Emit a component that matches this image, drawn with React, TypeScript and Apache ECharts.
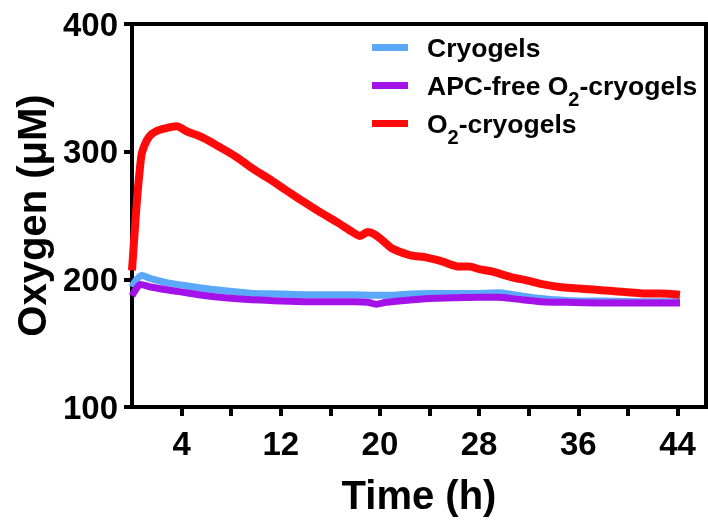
import React, { useEffect, useRef } from 'react';
import * as echarts from 'echarts';

// ---- data ----
const xTickValues = [4, 8, 12, 16, 20, 24, 28, 32, 36, 40, 44];
const xLabelValues = [4, 12, 20, 28, 36, 44];
const yTickValues = [100, 200, 300, 400];

const seriesNames = ['Cryogels', 'APC-free O2-cryogels', 'O2-cryogels'];
const seriesColors = ['#5BA8FA', '#A312E8', '#FF0A0A'];

const cryoTime = [0, 0.3, 0.8, 1.5, 3.0, 4.4, 5.7, 7.5, 9.7, 12, 14, 16, 18, 19.7, 21, 22.5, 24, 26, 28, 29.5, 31, 33, 35, 38, 41, 44.2];
const cryoValues = [194, 199, 203, 200.5, 197, 195, 193, 191, 189, 188.5, 188, 188, 188, 187.5, 187.5, 188.5, 189, 189, 189, 189.5, 187.5, 185, 183.5, 183, 182.5, 182.5];

const apcTime = [0, 0.3, 0.7, 1.5, 3.0, 4.4, 5.7, 7.5, 9.7, 12, 14, 16, 18, 19, 19.7, 20.5, 22, 24, 26, 28, 29.5, 31, 33, 35, 38, 41, 44.2];
const apcValues = [187, 192, 196, 194, 191.5, 189.5, 187.5, 185.5, 184, 183, 182.5, 182.5, 182.5, 182, 180.5, 182, 183.5, 185, 185.5, 186, 186, 184.5, 182.5, 182, 181.5, 181.5, 181.5];

const o2Time = [0, 0.2, 0.4, 0.6, 0.8, 1.2, 1.6, 2.2, 3.0, 3.6, 4.4, 5.7, 7.0, 8.4, 9.7, 11, 12.4, 13.8, 15.1, 16.5, 17.8, 18.4, 19.0, 19.6, 20.5, 21.0, 22.4, 23.8, 25.0, 26.4, 27.2, 28.0, 29.1, 30.5, 31.9, 33.2, 34.5, 35.8, 37.2, 38.5, 39.8, 41.2, 42.6, 44.2];
const o2Values = [207, 235, 262, 283, 299, 309, 314, 317, 319, 320, 316, 311, 304, 296, 287, 279, 270, 261, 253, 245, 237, 234, 237, 235, 228, 224, 219, 217, 214, 210, 210, 208, 206, 202, 199, 196, 194, 193, 192, 191, 190, 189, 189, 188];

const FONT = '"Liberation Sans", Arial, Helvetica, sans-serif';

function pairs(t: number[], v: number[]) {
  return t.map((x, i) => [x, v[i]]);
}

export default function App() {
  const ref = useRef<HTMLDivElement>(null);

  useEffect(() => {
    document.body.style.margin = '0';
    const chart = echarts.init(ref.current!, undefined, { renderer: 'svg' });
    const times = [cryoTime, apcTime, o2Time];
    const values = [cryoValues, apcValues, o2Values];
    const widths = [7, 7, 8];

    chart.setOption({
      animation: false,
      grid: {
        left: 132,
        right: 2,
        top: 24,
        bottom: 118,
        show: true,
        borderColor: '#000',
        borderWidth: 4,
        backgroundColor: 'transparent',
      },
      legend: {
        orient: 'vertical',
        left: 372,
        top: 24,
        padding: 0,
        itemGap: -9,
        itemWidth: 36,
        itemHeight: 7,
        icon: 'rect',
        data: seriesNames,
        formatter: (name: string) => name.replace('O2', 'O{sub|2}'),
        textStyle: {
          fontFamily: FONT,
          fontWeight: 'bold',
          fontSize: 26.5,
          color: '#000',
          lineHeight: 47,
          padding: [0, 0, 0, 14],
          rich: {
            sub: {
              fontFamily: FONT,
              fontWeight: 'bold',
              fontSize: 20,
              lineHeight: 20,
              verticalAlign: 'bottom',
              color: '#000',
            },
          },
        },
      },
      xAxis: {
        type: 'value',
        min: 0,
        max: 46.3,
        name: 'Time (h)',
        nameLocation: 'middle',
        nameGap: 68,
        nameTextStyle: { fontFamily: FONT, fontWeight: 'bold', fontSize: 40, color: '#000' },
        axisLine: { show: true, lineStyle: { color: '#000', width: 4 } },
        axisTick: {
          show: true,
          length: 9,
          lineStyle: { color: '#000', width: 4 },
          customValues: xTickValues,
        },
        axisLabel: {
          margin: 20,
          fontFamily: FONT,
          fontWeight: 'bold',
          fontSize: 33,
          color: '#000',
          customValues: xLabelValues,
        },
        splitLine: { show: false },
      },
      yAxis: {
        type: 'value',
        min: 100,
        max: 400,
        interval: 100,
        name: 'Oxygen (μM)',
        nameLocation: 'middle',
        nameGap: 79,
        nameTextStyle: { fontFamily: FONT, fontWeight: 'bold', fontSize: 40, color: '#000' },
        axisLine: { show: true, lineStyle: { color: '#000', width: 4 } },
        axisTick: {
          show: true,
          length: 8,
          lineStyle: { color: '#000', width: 4 },
          customValues: yTickValues,
        },
        axisLabel: {
          margin: 14,
          fontFamily: FONT,
          fontWeight: 'bold',
          fontSize: 33,
          color: '#000',
          customValues: yTickValues,
        },
        splitLine: { show: false },
      },
      series: seriesNames.map((name, i) => ({
        name,
        type: 'line',
        data: pairs(times[i], values[i]),
        showSymbol: false,
        symbol: 'none',
        smooth: 0.3,
        color: seriesColors[i],
        lineStyle: { color: seriesColors[i], width: widths[i] },
        itemStyle: { color: seriesColors[i] },
        z: 2 + i,
      })),
    });

    return () => chart.dispose();
  }, []);

  return (
    <div
      ref={ref}
      style={{ position: 'fixed', left: 0, top: 0, width: 708, height: 525 }}
    />
  );
}
